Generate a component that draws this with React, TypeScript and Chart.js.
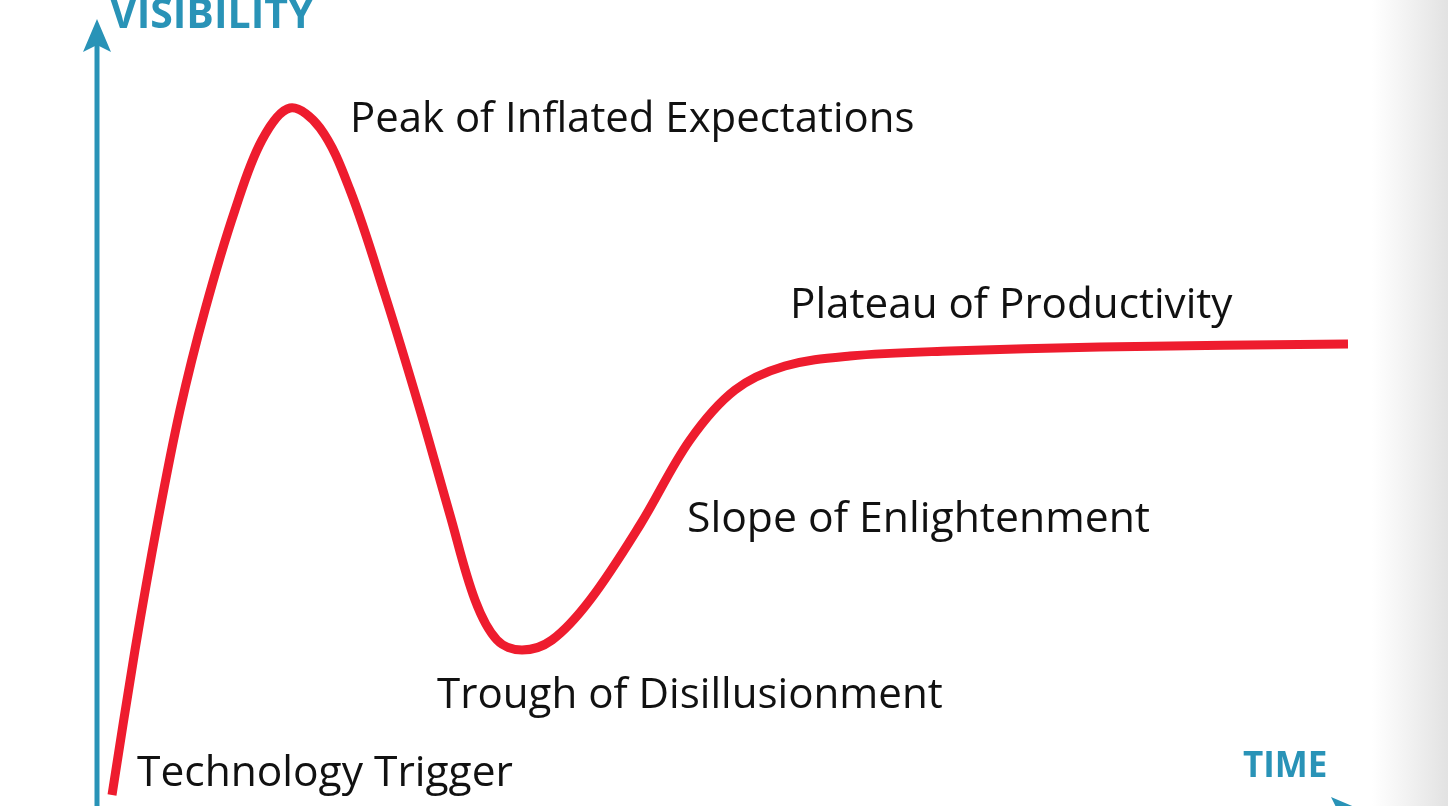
import React, { useEffect, useRef } from "react";
import { Chart, registerables } from "chart.js";

Chart.register(...registerables);

// Hype cycle curve: time (units from left edge) and visibility (units from bottom edge)
const timeValues = [
  112, 135, 158, 180, 205, 235, 262, 290, 320, 350, 385, 420, 450, 475, 497, 522, 552, 590, 640, 690, 735, 785, 850, 950, 1100, 1348,
];
const visibilityValues = [
  11, 156, 286, 396, 496, 596, 666, 698, 678, 616, 511, 396, 291, 206, 166, 156, 166, 206, 281, 366, 416, 440, 450, 455, 459, 462,
];

const phaseLabels = [
  "Peak of Inflated Expectations",
  "Plateau of Productivity",
  "Slope of Enlightenment",
  "Trough of Disillusionment",
  "Technology Trigger",
];
const phaseLabelTime = [350, 790, 687, 437, 137];
const phaseLabelVisibility = [674, 488, 274, 98, 20];
const phaseLabelWidth = [565, 443, 463, 506, 376];

const yAxisTitle = "VISIBILITY";
const xAxisTitle = "TIME";

const TEAL = "#2993b7";
const RED = "#ee1c2e";

export default function App() {
  const canvasRef = useRef<HTMLCanvasElement | null>(null);

  useEffect(() => {
    const canvas = canvasRef.current;
    if (!canvas) return;

    const decorations = {
      id: "hypeDecorations",
      beforeDraw(chart: any) {
        const ctx = chart.ctx;
        const w = chart.width;
        const h = chart.height;
        ctx.save();
        ctx.fillStyle = "#ffffff";
        ctx.fillRect(0, 0, w, h);
        const g = ctx.createLinearGradient(1372, 0, w, 0);
        g.addColorStop(0, "rgba(228,228,228,0)");
        g.addColorStop(1, "rgba(226,226,226,1)");
        ctx.fillStyle = g;
        ctx.fillRect(1372, 0, w - 1372, h);
        ctx.restore();
      },
      afterDatasetsDraw(chart: any) {
        const ctx = chart.ctx;
        const xs = chart.scales.x;
        const ys = chart.scales.y;
        const ax = xs.getPixelForValue(97);
        const ay = ys.getPixelForValue(-5);
        ctx.save();
        // y axis
        ctx.strokeStyle = TEAL;
        ctx.fillStyle = TEAL;
        ctx.lineWidth = 5;
        ctx.beginPath();
        ctx.moveTo(ax, ay + 10);
        ctx.lineTo(ax, 42);
        ctx.stroke();
        ctx.beginPath();
        ctx.moveTo(ax, 19);
        ctx.lineTo(ax + 14, 52);
        ctx.lineTo(ax, 45);
        ctx.lineTo(ax - 14, 52);
        ctx.closePath();
        ctx.fill();
        // x axis
        const xEnd = xs.getPixelForValue(1364);
        ctx.beginPath();
        ctx.moveTo(ax, ay);
        ctx.lineTo(xEnd - 20, ay);
        ctx.stroke();
        ctx.beginPath();
        ctx.moveTo(xEnd, ay);
        ctx.lineTo(xEnd - 33, ay - 14);
        ctx.lineTo(xEnd - 26, ay);
        ctx.lineTo(xEnd - 33, ay + 14);
        ctx.closePath();
        ctx.fill();

        // axis titles
        ctx.textBaseline = "alphabetic";
        ctx.textAlign = "left";
        ctx.font = "bold 41px 'Open Sans'";
        ctx.fillText(yAxisTitle, 110, 28, 208);
        ctx.font = "bold 35px 'Open Sans'";
        ctx.fillText(xAxisTitle, 1243, 777, 88);

        // phase labels, sized to the widths
        ctx.fillStyle = "#111111";
        phaseLabels.forEach((t, i) => {
          ctx.font = "37px 'Open Sans'";
          const m = ctx.measureText(t).width;
          const size = Math.min(44, (37 * phaseLabelWidth[i]) / m);
          ctx.font = `${size.toFixed(1)}px 'Open Sans'`;
          const px = xs.getPixelForValue(phaseLabelTime[i]);
          const py = ys.getPixelForValue(phaseLabelVisibility[i]);
          ctx.fillText(t, px, py, phaseLabelWidth[i]);
        });
        ctx.restore();
      },
    };

    const chart = new Chart(canvas, {
      type: "line",
      data: {
        datasets: [
          {
            label: "Hype cycle",
            data: timeValues.map((t, i) => ({ x: t, y: visibilityValues[i] })),
            borderColor: RED,
            borderWidth: 9,
            pointRadius: 0,
            tension: 0.35,
            fill: false,
            borderCapStyle: "butt",
            borderJoinStyle: "round",
          },
        ],
      },
      options: {
        animation: false,
        responsive: false,
        maintainAspectRatio: false,
        layout: { padding: 0 },
        plugins: { legend: { display: false }, tooltip: { enabled: false } },
        scales: {
          x: { type: "linear", min: 0, max: 1448, display: false },
          y: { type: "linear", min: 0, max: 806, display: false },
        },
      },
      plugins: [decorations],
    });

    return () => chart.destroy();
  }, []);

  return (
    <div style={{ position: "fixed", left: 0, top: 0, width: 1448, height: 806, background: "#fff" }}>
      <canvas ref={canvasRef} width={1448} height={806} style={{ display: "block" }} />
    </div>
  );
}
